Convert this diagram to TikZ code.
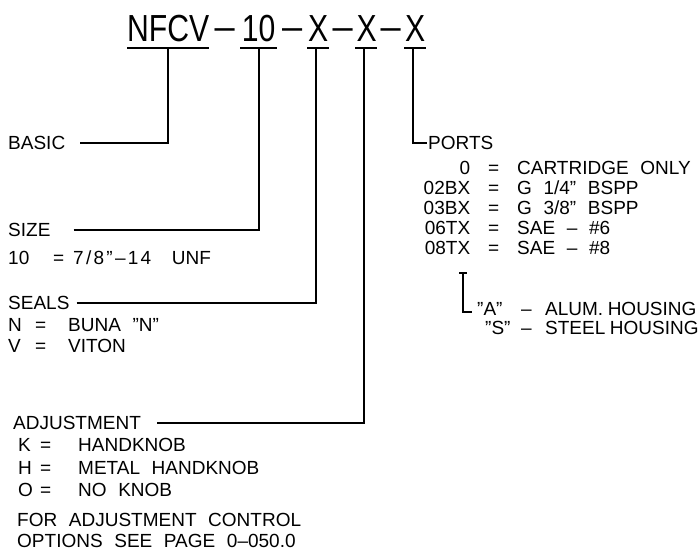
\documentclass[tikz,border=0pt]{standalone}
\usepackage{fontspec}
\usepackage{graphicx}
\setmainfont{Liberation Sans}[WordSpace=2.2]
\newfontfamily\titlefam[FakeStretch=0.8]{Liberation Sans}
\newcommand\bodyfont{\fontsize{19}{22}\selectfont}
\newcommand\ttlfont{\titlefam\fontsize{37.7}{40}\selectfont}
\newcommand\tdash{\raisebox{2pt}{\scalebox{1.2}[1]{–}}}
% code = description, left aligned columns
\newcommand\kvl[4]{\makebox[#1][l]{#3}\makebox[#2][l]{=}#4}
% code = description, code right aligned
\newcommand\kvr[4]{\makebox[#1][r]{#3}\makebox[#2][c]{=}#4}
\tikzset{
  lbl/.style={anchor=west, inner sep=0pt, text height=13.6pt, text depth=0pt, font=\bodyfont},
  link/.style={line width=1.7pt, line cap=butt},
}
\begin{document}
\begin{tikzpicture}[x=1pt,y=-1pt]
\useasboundingbox (0,0) rectangle (699,550);
% title
\node[anchor=base west, inner sep=0pt, font=\ttlfont] (title) at (127,41.5)
  {\makebox[82pt]{NFCV}\makebox[31pt]{\tdash}\makebox[37pt]{10}\makebox[30pt]{\tdash}\makebox[22pt]{X}\makebox[27pt]{\tdash}\makebox[21pt]{X}\makebox[27pt]{\tdash}\makebox[22pt]{X}};
% underlines
\draw[link] (127,48) -- (209,48);
\draw[link] (240,48) -- (277,48);
\draw[link] (307,48) -- (329,48);
\draw[link] (355,48) -- (377,48);
\draw[link] (404,48) -- (426,48);
\coordinate (u1) at (168,48);
\coordinate (u2) at (259,48);
\coordinate (u3) at (316,48);
\coordinate (u4) at (364,48);
\coordinate (u5) at (413,48);
% labels
\node[lbl] (basic) at (8,143) {BASIC};
\node[lbl] (size) at (8,230) {SIZE};
\node[lbl] (size1) at (8,258) {\kvl{45pt}{20pt}{10}{{\addfontfeature{LetterSpace=12}7/8”–14} \hspace{9pt}UNF}};
\node[lbl] (seals) at (8,303) {SEALS};
\node[lbl] (sealn) at (8,325) {\kvl{27pt}{33pt}{N}{BUNA ”N”}};
\node[lbl] (sealv) at (8,346) {\kvl{27pt}{33pt}{V}{VITON}};
\node[lbl] (adj) at (13,423) {ADJUSTMENT};
\node[lbl] (adjk) at (18,445) {\kvl{22pt}{38pt}{K}{HANDKNOB}};
\node[lbl] (adjh) at (18,468) {\kvl{22pt}{38pt}{H}{METAL HANDKNOB}};
\node[lbl] (adjo) at (18,490) {\kvl{22pt}{38pt}{O}{NO KNOB}};
\node[lbl] (note1) at (17,520) {FOR ADJUSTMENT CONTROL};
\node[lbl] (note2) at (17,540.5) {OPTIONS SEE PAGE 0–050.0};
\node[lbl] (ports) at (428,143) {PORTS};
\node[lbl] (p0) at (420,168) {\kvr{50pt}{47pt}{0}{CARTRIDGE ONLY}};
\node[lbl] (p1) at (420,188) {\kvr{50pt}{47pt}{02BX}{G 1/4” BSPP}};
\node[lbl] (p2) at (420,208) {\kvr{50pt}{47pt}{03BX}{G 3/8” BSPP}};
\node[lbl] (p3) at (420,228) {\kvr{50pt}{47pt}{06TX}{SAE – \#6}};
\node[lbl] (p4) at (420,248) {\kvr{50pt}{47pt}{08TX}{SAE – \#8}};
\node[lbl] (alum) at (477,309) {\makebox[44pt][l]{”A”}\makebox[24pt][l]{–}{\spaceskip=4.5pt ALUM. HOUSING}};
\node[lbl] (steel) at (485,328) {\makebox[36pt][l]{”S”}\makebox[24pt][l]{–}{\spaceskip=4.5pt STEEL HOUSING}};
% connectors
\draw[link] ([xshift=15pt]basic.east) -| (u1);
\draw[link] ([xshift=23pt]size.east) -| (u2);
\draw[link] ([xshift=7pt]seals.east) -| (u3);
\draw[link] ([xshift=16pt]adj.east) -| (u4);
\draw[link] (u5) |- ([xshift=-1pt]ports.west);
% housing bracket
\coordinate (brk) at (463,273);
\draw[link] ([xshift=-4pt]brk) -- ([xshift=4pt]brk);
\draw[link] (brk) |- ([xshift=-5pt,yshift=-3pt]alum.west);
\end{tikzpicture}
\end{document}
